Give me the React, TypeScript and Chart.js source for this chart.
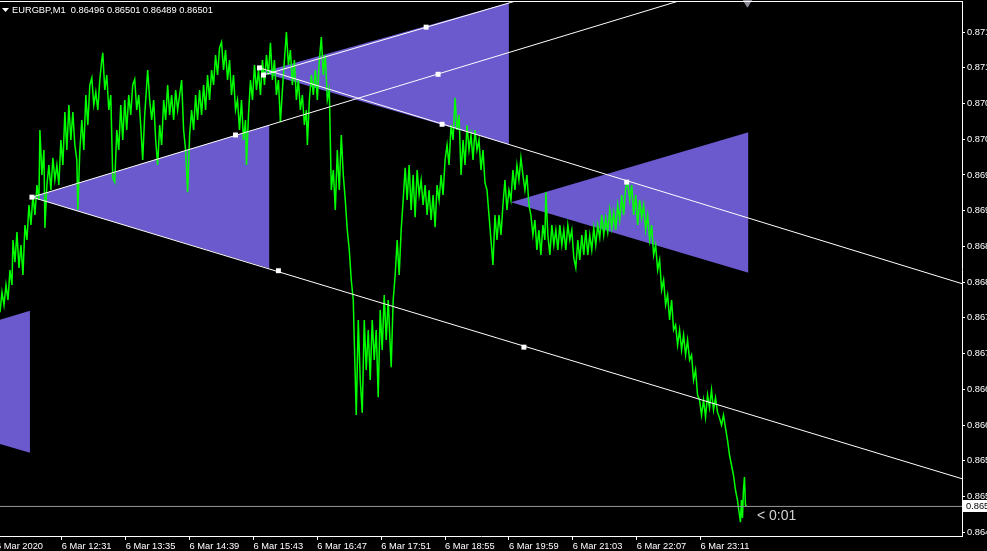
import React, { useEffect, useRef } from 'react';
import { Chart, registerables } from 'chart.js';

Chart.register(...registerables);

// ---- text ----
const symbolTitle = 'EURGBP,M1  0.86496 0.86501 0.86489 0.86501';
const countdownText = '< 0:01';
const bidPrice = 0.86501;

// ---- axes (time in minutes from 11:29) ----
const timeTicks = [-4, 62, 126, 190, 254, 318, 382, 446, 510, 574, 638, 702];
const timeLabels = [
  '6 Mar 2020', '6 Mar 12:31', '6 Mar 13:35', '6 Mar 14:39', '6 Mar 15:43', '6 Mar 16:47',
  '6 Mar 17:51', '6 Mar 18:55', '6 Mar 19:59', '6 Mar 21:03', '6 Mar 22:07', '6 Mar 23:11',
];
const priceTicks = [
  0.86465, 0.86515, 0.86565, 0.86615, 0.86665, 0.86715, 0.86765, 0.86815,
  0.86865, 0.86915, 0.86965, 0.87015, 0.87065, 0.87115, 0.87165,
];
const timeRange = [0, 964];
const priceRange = [0.864596, 0.872072];

// ---- EURGBP M1 price path [minute, price] ----
const eurgbpPath: [number, number][] = [
  [0,0.86773],[2,0.86801],[4,0.86783],[6,0.86811],[8,0.86790],[10,0.86832],[12,0.86811],[13,0.86874],[15,0.86843],[17,0.86885],[19,0.86835],[21,0.86867],[23,0.86825],[25,0.86895],[27,0.86874],[29,0.86923],[31,0.86895],[33,0.86937],[35,0.86909],[37,0.86951],[39,0.86930],[40,0.87028],[42,0.86965],[44,0.87000],[45,0.86891],[47,0.86951],[49,0.86979],[51,0.86944],[53,0.86989],[55,0.86958],[57,0.86979],[59,0.86951],[61,0.87014],[63,0.86979],[65,0.87053],[67,0.87000],[69,0.87063],[71,0.87014],[73,0.87053],[75,0.87007],[77,0.86986],[78,0.86916],[80,0.87000],[82,0.87042],[84,0.87000],[86,0.87077],[88,0.87035],[90,0.87091],[92,0.87101],[94,0.87063],[96,0.87081],[98,0.87056],[100,0.87098],[102,0.87126],[103,0.87136],[105,0.87084],[107,0.87105],[109,0.87056],[111,0.87077],[113,0.86961],[115,0.86955],[117,0.87028],[119,0.87000],[121,0.87063],[123,0.87014],[125,0.87070],[127,0.87028],[129,0.87077],[131,0.87049],[133,0.87091],[135,0.87099],[137,0.87056],[139,0.87077],[141,0.87035],[143,0.86986],[145,0.87049],[147,0.87091],[148,0.87112],[150,0.87070],[152,0.87042],[154,0.87070],[156,0.87014],[158,0.86979],[160,0.87035],[162,0.87007],[164,0.87070],[166,0.87042],[168,0.87091],[170,0.87049],[172,0.87077],[174,0.87042],[176,0.87084],[178,0.87056],[180,0.87077],[182,0.87098],[184,0.87028],[186,0.87000],[188,0.86941],[190,0.87021],[192,0.87056],[194,0.87028],[196,0.87077],[198,0.87042],[200,0.87084],[202,0.87049],[204,0.87091],[206,0.87056],[208,0.87105],[210,0.87070],[212,0.87112],[214,0.87091],[216,0.87133],[218,0.87105],[220,0.87143],[222,0.87151],[224,0.87112],[226,0.87140],[228,0.87098],[230,0.87126],[232,0.87077],[234,0.87105],[236,0.87056],[238,0.87070],[240,0.87028],[242,0.87070],[244,0.87014],[246,0.87042],[247,0.86979],[249,0.87049],[251,0.87098],[253,0.87070],[255,0.87119],[257,0.87084],[259,0.87112],[261,0.87077],[263,0.87126],[265,0.87091],[267,0.87133],[269,0.87105],[271,0.87150],[273,0.87098],[275,0.87126],[277,0.87077],[279,0.87098],[281,0.87039],[283,0.87084],[285,0.87126],[287,0.87165],[289,0.87119],[291,0.87140],[293,0.87091],[295,0.87126],[297,0.87070],[299,0.87098],[301,0.87056],[303,0.87077],[305,0.87035],[307,0.87056],[308,0.87007],[310,0.87070],[312,0.87105],[314,0.87077],[316,0.87112],[318,0.87070],[320,0.87126],[322,0.87158],[324,0.87105],[326,0.87133],[328,0.87070],[330,0.87084],[332,0.86944],[334,0.86972],[336,0.86916],[338,0.87000],[340,0.86944],[342,0.87021],[344,0.86965],[346,0.86930],[348,0.86888],[350,0.86860],[352,0.86818],[354,0.86790],[355,0.86734],[357,0.86629],[359,0.86762],[361,0.86678],[363,0.86632],[365,0.86762],[367,0.86692],[369,0.86748],[371,0.86678],[373,0.86762],[375,0.86706],[377,0.86748],[379,0.86654],[381,0.86776],[383,0.86720],[385,0.86797],[387,0.86734],[389,0.86790],[391,0.86727],[392,0.86696],[394,0.86790],[396,0.86825],[398,0.86874],[400,0.86825],[402,0.86888],[404,0.86930],[406,0.86975],[408,0.86930],[410,0.86979],[412,0.86916],[414,0.86965],[416,0.86906],[418,0.86972],[420,0.86937],[422,0.86958],[424,0.86923],[426,0.86951],[428,0.86909],[430,0.86944],[432,0.86902],[434,0.86937],[436,0.86892],[438,0.86951],[440,0.86930],[442,0.86965],[444,0.86937],[446,0.86986],[448,0.87007],[450,0.86979],[452,0.87035],[454,0.87014],[456,0.87073],[458,0.87028],[460,0.87049],[462,0.86965],[464,0.87014],[466,0.86979],[468,0.87035],[470,0.87000],[472,0.87021],[474,0.86986],[476,0.87028],[478,0.87000],[480,0.87014],[482,0.86972],[484,0.87000],[486,0.86954],[488,0.86944],[490,0.86909],[492,0.86874],[494,0.86839],[496,0.86909],[498,0.86874],[500,0.86909],[502,0.86881],[504,0.86923],[506,0.86958],[508,0.86916],[510,0.86944],[512,0.86930],[514,0.86972],[516,0.86944],[518,0.86979],[520,0.86958],[522,0.86989],[524,0.86965],[526,0.86944],[528,0.86965],[530,0.86923],[532,0.86909],[534,0.86881],[536,0.86902],[538,0.86860],[540,0.86888],[542,0.86853],[544,0.86895],[546,0.86874],[547,0.86941],[549,0.86881],[551,0.86853],[553,0.86895],[555,0.86867],[557,0.86888],[559,0.86860],[561,0.86895],[563,0.86867],[565,0.86888],[567,0.86860],[569,0.86895],[571,0.86874],[573,0.86888],[575,0.86849],[577,0.86835],[579,0.86874],[581,0.86846],[583,0.86881],[585,0.86853],[587,0.86888],[589,0.86853],[591,0.86881],[593,0.86860],[595,0.86891],[597,0.86867],[599,0.86895],[601,0.86877],[603,0.86909],[605,0.86881],[607,0.86905],[609,0.86885],[611,0.86916],[613,0.86891],[615,0.86913],[617,0.86888],[619,0.86923],[621,0.86902],[623,0.86937],[625,0.86909],[627,0.86947],[629,0.86955],[631,0.86930],[633,0.86951],[635,0.86909],[637,0.86937],[639,0.86895],[641,0.86930],[643,0.86905],[645,0.86923],[647,0.86888],[649,0.86909],[651,0.86874],[653,0.86895],[655,0.86853],[657,0.86867],[659,0.86832],[661,0.86846],[663,0.86804],[665,0.86818],[667,0.86783],[669,0.86797],[671,0.86762],[673,0.86790],[675,0.86748],[677,0.86755],[679,0.86727],[681,0.86748],[683,0.86720],[685,0.86741],[687,0.86713],[689,0.86734],[691,0.86706],[693,0.86713],[695,0.86678],[697,0.86692],[699,0.86657],[701,0.86650],[703,0.86629],[705,0.86650],[707,0.86626],[709,0.86657],[711,0.86639],[713,0.86664],[715,0.86636],[717,0.86653],[719,0.86633],[721,0.86625],[723,0.86615],[725,0.86629],[727,0.86611],[729,0.86594],[731,0.86573],[733,0.86559],[735,0.86545],[737,0.86524],[739,0.86510],[741,0.86489],[742,0.86479],[743,0.86510],[744,0.86485],[745,0.86524],[746,0.86542],[747,0.86503],[748,0.86501],
];

// ---- triangle objects: apex [minute, price], end [minute, topPrice, bottomPrice] ----
const triangleApex: [number, number][] = [[-207, 0.86675], [32, 0.86934], [262, 0.87109], [512, 0.86927]];
const triangleEnd: [number, number, number][] = [[30, 0.86775, 0.86576], [270, 0.87035, 0.86834], [510, 0.87206, 0.87008], [750, 0.87025, 0.86828]];

// ---- trend lines [[minute, price], [minute, price]] ----
const trendLines: [number, number][][] = [
  [[32, 0.86934], [700, 0.87217]],
  [[32, 0.86934], [980, 0.86533]],
  [[264, 0.87105], [530, 0.87214]],
  [[260, 0.87115], [980, 0.86806]],
];
const anchorPoints: [number, number][] = [
  [32, 0.86934], [236, 0.87021], [439, 0.87106], [279, 0.86831], [525, 0.86724],
  [260, 0.87115], [264, 0.87105], [427, 0.87172], [443, 0.87036], [628, 0.86955],
];
const shiftMarker: [number, number] = [749, 0.87207];

const FONT = '"Liberation Sans", Arial, sans-serif';
const PURPLE = '#6A5ACD';

const pts = (arr: [number, number][]) => arr.map(([x, y]) => ({ x, y }));

const decorPlugin = {
  id: 'mtDecor',
  afterDraw(chart: any) {
    const ctx = chart.ctx as CanvasRenderingContext2D;
    const area = chart.chartArea;
    ctx.save();
    ctx.fillStyle = '#ffffff';
    ctx.fillRect(0, 1, area.right + 1, 1);
    ctx.beginPath();
    ctx.moveTo(2, 8);
    ctx.lineTo(9, 8);
    ctx.lineTo(5.5, 12);
    ctx.closePath();
    ctx.fill();
    ctx.font = `9.3px ${FONT}`;
    ctx.textBaseline = 'alphabetic';
    ctx.textAlign = 'left';
    ctx.fillText(symbolTitle, 12, 13);
    ctx.fillStyle = '#d2d2d2';
    ctx.font = `14px ${FONT}`;
    ctx.fillText(countdownText, 757, 520);
    const y = chart.scales.y.getPixelForValue(bidPrice);
    ctx.fillStyle = '#ffffff';
    ctx.fillRect(area.right + 1, Math.round(y) - 6, 30, 12);
    ctx.fillStyle = '#000000';
    ctx.font = `9.3px ${FONT}`;
    ctx.textBaseline = 'middle';
    ctx.fillText(bidPrice.toFixed(5), area.right + 4, y + 0.5);
    ctx.restore();
  },
};

export default function App() {
  const ref = useRef<HTMLCanvasElement | null>(null);

  useEffect(() => {
    if (!ref.current) return;
    const datasets: any[] = [];

    datasets.push({
      label: 'anchors',
      data: pts(anchorPoints),
      showLine: false,
      pointStyle: 'rect',
      pointRadius: 3.5,
      pointBackgroundColor: '#ffffff',
      pointBorderColor: '#ffffff',
      pointBorderWidth: 0,
    });
    datasets.push({
      label: 'shift',
      data: pts([shiftMarker]),
      showLine: false,
      pointStyle: 'triangle',
      rotation: 180,
      pointRadius: 5,
      pointBackgroundColor: '#8a8a96',
      pointBorderColor: '#8a8a96',
      clip: false,
    });
    trendLines.forEach((ln, i) => {
      datasets.push({
        label: 'trend' + i,
        data: pts(ln),
        borderColor: '#ffffff',
        borderWidth: 1,
        pointRadius: 0,
        fill: false,
      });
    });
    datasets.push({
      label: 'bid',
      data: pts([[-10, bidPrice], [1000, bidPrice]]),
      borderColor: '#9a9a9a',
      borderWidth: 1,
      pointRadius: 0,
      fill: false,
    });
    datasets.push({
      label: 'EURGBP',
      data: pts(eurgbpPath),
      borderColor: '#00ff00',
      borderWidth: 1.5,
      pointRadius: 0,
      tension: 0,
      fill: false,
    });
    triangleApex.forEach((apex, i) => {
      const [et, top, bottom] = triangleEnd[i];
      datasets.push({
        label: 'triTop' + i,
        data: pts([apex, [et, top]]),
        borderColor: 'rgba(0,0,0,0)',
        borderWidth: 1,
        backgroundColor: PURPLE,
        pointRadius: 0,
        fill: false,
      });
      datasets.push({
        label: 'triBottom' + i,
        data: pts([apex, [et, bottom]]),
        borderColor: 'rgba(0,0,0,0)',
        borderWidth: 1,
        backgroundColor: PURPLE,
        pointRadius: 0,
        fill: '-1',
      });
    });

    const chart = new Chart(ref.current, {
      type: 'line',
      data: { datasets },
      options: {
        animation: false,
        responsive: false,
        devicePixelRatio: 1,
        events: [],
        layout: { autoPadding: false, padding: { top: 2, left: 0, right: 0, bottom: 0 } },
        plugins: {
          legend: { display: false },
          tooltip: { enabled: false },
          title: { display: false },
        },
        scales: {
          x: {
            type: 'linear',
            position: 'bottom',
            min: timeRange[0],
            max: timeRange[1],
            bounds: 'data',
            afterBuildTicks: (s: any) => {
              s.ticks = timeTicks.map((v) => ({ value: v }));
            },
            afterFit: (s: any) => {
              s.height = 15;
              s.paddingLeft = 0;
              s.paddingRight = 0;
            },
            ticks: {
              autoSkip: false,
              maxRotation: 0,
              minRotation: 0,
              align: 'start',
              padding: 1,
              color: '#ffffff',
              font: { family: FONT, size: 9.3 },
              callback: (_v: any, i: number) => timeLabels[i],
            },
            grid: { drawOnChartArea: false, drawTicks: true, tickLength: 4, color: '#ffffff' },
            border: { display: true, color: '#ffffff', width: 1 },
          },
          y: {
            type: 'linear',
            position: 'right',
            min: priceRange[0],
            max: priceRange[1],
            bounds: 'data',
            afterBuildTicks: (s: any) => {
              s.ticks = priceTicks.map((v) => ({ value: v }));
            },
            afterFit: (s: any) => {
              s.width = 25;
              s.paddingTop = 0;
              s.paddingBottom = 0;
            },
            ticks: {
              autoSkip: false,
              padding: 2,
              color: '#ffffff',
              font: { family: FONT, size: 9.3 },
              callback: (v: any) => Number(v).toFixed(5),
            },
            grid: { drawOnChartArea: false, drawTicks: true, tickLength: 3, color: '#ffffff' },
            border: { display: true, color: '#ffffff', width: 1 },
          },
        },
      },
      plugins: [decorPlugin],
    } as any);

    return () => chart.destroy();
  }, []);

  return (
    <div style={{ position: 'fixed', left: 0, top: 0, width: 987, height: 551, background: '#000' }}>
      <canvas ref={ref} width={987} height={551} style={{ display: 'block', width: 987, height: 551 }} />
    </div>
  );
}
